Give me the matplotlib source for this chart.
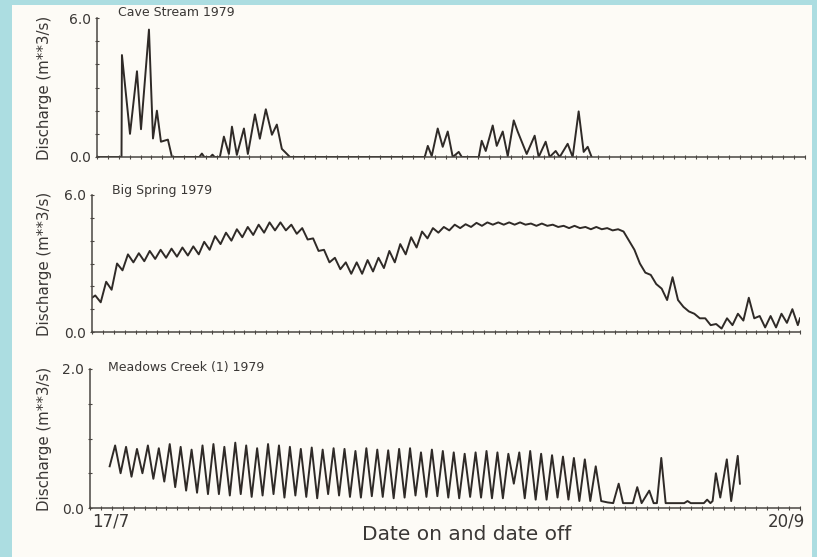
import matplotlib
matplotlib.use("Agg")
import matplotlib.pyplot as plt
from matplotlib.patches import Rectangle
from matplotlib.ticker import MultipleLocator

# days since 17/7 (0) to 20/9 (65)
n_days = 65

# Cave Stream: (day, discharge) read at the peaks and troughs
cave_day = [0.0, 2.25, 2.29, 3.03, 3.67, 4.04, 4.77, 5.14, 5.50, 5.87, 6.51, 6.88,
            9.4, 9.63, 9.85, 10.4, 10.6, 10.8,
            11.28, 11.65, 12.11, 12.39, 12.84, 13.49, 13.85, 14.5, 14.95, 15.5,
            16.06, 16.51, 16.97, 17.25, 17.71,
            30.09, 30.37, 30.73, 31.28, 31.74, 32.2, 32.66, 33.21, 33.49,
            35.05, 35.32, 35.69, 36.33, 36.7, 37.25, 37.71, 38.26, 38.62, 39.45,
            40.18, 40.55, 41.19, 41.56, 42.11, 42.48, 43.21, 43.67, 44.22, 44.68,
            45.05, 45.41]
cave_q = [0.0, 0.0, 4.4, 1.0, 3.7, 1.2, 5.5, 0.8, 2.0, 0.66, 0.75, 0.0,
          0.0, 0.15, 0.0, 0.0, 0.1, 0.0,
          0.0, 0.88, 0.13, 1.31, 0.09, 1.23, 0.13, 1.84, 0.79, 2.06,
          0.96, 1.40, 0.35, 0.22, 0.0,
          0.0, 0.48, 0.04, 1.23, 0.44, 1.1, 0.0, 0.22, 0.0,
          0.0, 0.7, 0.26, 1.36, 0.48, 1.1, 0.04, 1.58, 1.1, 0.13,
          0.92, 0.0, 0.66, 0.0, 0.26, 0.0, 0.57, 0.0, 1.97, 0.22,
          0.44, 0.0]

# Big Spring: daily high and low, day 0..64
bs_hi = [1.6, 2.2, 3.0, 3.4, 3.45, 3.55, 3.6, 3.65, 3.7, 3.75,
         3.95, 4.2, 4.35, 4.5, 4.6, 4.7, 4.8, 4.8, 4.7, 4.55,
         4.1, 3.6, 3.25, 3.05, 3.05, 3.15, 3.25, 3.55, 3.85, 4.15,
         4.4, 4.55, 4.6, 4.7, 4.72, 4.78, 4.8, 4.8, 4.8, 4.8,
         4.75, 4.75, 4.7, 4.65, 4.65, 4.6, 4.6, 4.55, 4.5, 4.0,
         3.0, 2.5, 1.9, 2.4, 1.1, 0.8, 0.6, 0.35, 0.6, 0.8,
         1.5, 0.7, 0.7, 0.8, 1.0]
bs_lo = [1.3, 1.85, 2.7, 3.05, 3.1, 3.2, 3.25, 3.3, 3.35, 3.4,
         3.6, 3.85, 4.0, 4.15, 4.25, 4.35, 4.45, 4.45, 4.3, 4.05,
         3.55, 3.05, 2.75, 2.55, 2.55, 2.65, 2.8, 3.05, 3.4, 3.7,
         4.1, 4.35, 4.45, 4.55, 4.6, 4.65, 4.7, 4.7, 4.7, 4.7,
         4.65, 4.65, 4.6, 4.55, 4.55, 4.5, 4.5, 4.45, 4.4, 3.6,
         2.6, 2.1, 1.4, 1.4, 0.9, 0.6, 0.3, 0.15, 0.3, 0.5,
         0.6, 0.2, 0.2, 0.4, 0.3]
bs_end = 0.6

# Meadows Creek: daily high and low, day 2..46, then the low-flow tail
mc_first_day = 2
mc_hi = [0.9, 0.88, 0.85, 0.9, 0.86, 0.92, 0.88, 0.84, 0.9, 0.92,
         0.88, 0.94, 0.9, 0.86, 0.92, 0.9, 0.88, 0.85, 0.87, 0.84,
         0.86, 0.85, 0.82, 0.86, 0.84, 0.83, 0.85, 0.86, 0.8, 0.84,
         0.82, 0.8, 0.78, 0.8, 0.82, 0.8, 0.78, 0.8, 0.82, 0.78,
         0.76, 0.74, 0.72, 0.7, 0.6]
mc_lo = [0.5, 0.45, 0.5, 0.42, 0.38, 0.3, 0.25, 0.22, 0.2, 0.2,
         0.18, 0.2, 0.16, 0.18, 0.2, 0.15, 0.18, 0.16, 0.14, 0.2,
         0.18, 0.16, 0.15, 0.17, 0.16, 0.14, 0.15, 0.18, 0.16, 0.17,
         0.15, 0.14, 0.16, 0.15, 0.14, 0.14, 0.35, 0.14, 0.12, 0.12,
         0.15, 0.12, 0.1, 0.1, 0.1]
mc_tail_day = [47.4, 47.9, 48.4, 48.8, 49.7, 50.1, 50.5, 51.2, 51.6, 51.9,
               52.3, 52.7, 54.4, 54.7, 55.0, 56.2, 56.5, 56.8, 57.0, 57.3,
               57.7, 58.3, 58.7, 59.3, 59.5]
mc_tail_q = [0.08, 0.07, 0.35, 0.07, 0.07, 0.3, 0.07, 0.25, 0.07, 0.07,
             0.72, 0.07, 0.07, 0.1, 0.07, 0.07, 0.12, 0.07, 0.1, 0.5,
             0.15, 0.7, 0.1, 0.75, 0.35]

titles = ["Cave Stream 1979", "Big Spring 1979", "Meadows Creek (1) 1979"]
ymax = [6.0, 6.0, 2.0]
ylabel = "Discharge (m**3/s)"
date_on, date_off = "17/7", "20/9"


def daily_series(first_day, hi, lo):
    t, q = [], []
    for i in range(len(hi)):
        t += [first_day + i + 0.3, first_day + i + 0.8]
        q += [hi[i], lo[i]]
    return t, q


ink = "#2f2a27"
txt = "#3a3735"
W, H = 817, 557

fig = plt.figure(figsize=(W / 100, H / 100), dpi=100, facecolor="#acdde1")
fig.patches.append(Rectangle((12 / W, 0), 800 / W, 552 / H, transform=fig.transFigure,
                             facecolor="#fdfbf6", edgecolor="none", zorder=-5))

# (left px, top px, right px, bottom px) of each panel
boxes = [(97, 18, 805, 157), (92, 195, 800, 332), (90, 369, 800, 508)]
axes = []
for (l, t, r, b), ym in zip(boxes, ymax):
    ax = fig.add_axes([l / W, 1 - b / H, (r - l) / W, (b - t) / H])
    ax.set_facecolor("none")
    ax.set_xlim(0, n_days)
    ax.set_ylim(0, ym)
    for s in ["top", "right"]:
        ax.spines[s].set_visible(False)
    for s in ["left", "bottom"]:
        ax.spines[s].set_color("#4a4642")
        ax.spines[s].set_linewidth(1.1)
    ax.set_yticks([0, ym])
    ax.set_yticklabels(["0.0", "%.1f" % ym], fontsize=10, color=txt)
    ax.yaxis.set_minor_locator(MultipleLocator(ym / 6 if ym > 2 else 0.5))
    ax.xaxis.set_major_locator(MultipleLocator(1))
    ax.set_xticklabels([])
    ax.tick_params(axis="both", which="both", direction="inout", length=3,
                   width=0.8, color="#4a4642", pad=3)
    axes.append(ax)

line_kw = dict(color=ink, lw=1.4, solid_joinstyle="round")
axes[0].plot(cave_day, cave_q, **line_kw)

t, q = daily_series(0, bs_hi, bs_lo)
axes[1].plot([0] + t + [n_days], [1.5] + q + [bs_end], **line_kw)

t, q = daily_series(mc_first_day, mc_hi, mc_lo)
axes[2].plot([1.8] + t + mc_tail_day, [0.6] + q + mc_tail_q, **line_kw)

# titles and y labels
title_pos = [(118, 12), (112, 191), (108, 367)]
for (x, y), s, (l, t_, r, b) in zip(title_pos, titles, boxes):
    fig.text(x / W, 1 - y / H, s, fontsize=9, color=txt, ha="left", va="center")
    fig.text(45 / W, 1 - (t_ + b) / 2 / H, ylabel, fontsize=10.8, color=txt,
             rotation=90, ha="center", va="center")

fig.text(92 / W, 1 - 522 / H, date_on, fontsize=12, color=txt, ha="left", va="center")
fig.text(805 / W, 1 - 522 / H, date_off, fontsize=12, color=txt, ha="right", va="center")
fig.text(467 / W, 1 - 535 / H, "Date on and date off", fontsize=14.5, color=txt,
         ha="center", va="center")

fig.savefig("out.png", dpi=100, facecolor=fig.get_facecolor())
